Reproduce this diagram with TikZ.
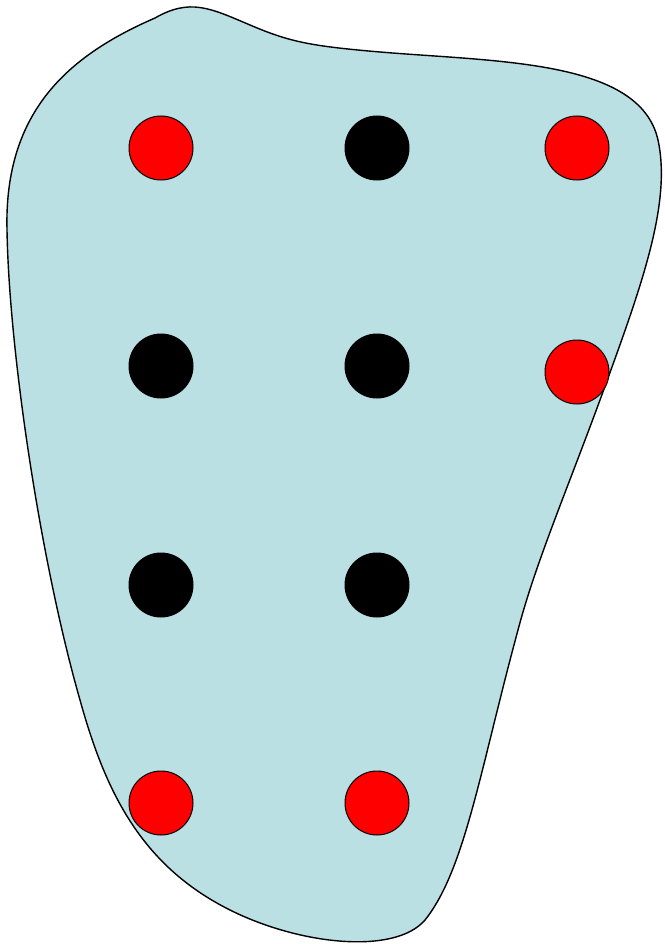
\documentclass[tikz,border=0pt]{standalone}
\definecolor{blob}{HTML}{BAE0E4}
\definecolor{dotred}{HTML}{FF0000}
\begin{document}
\begin{tikzpicture}[x=1pt,y=-1pt,
  reddot/.style={circle,draw=black,line width=1pt,fill=dotred,minimum size=64pt,inner sep=0pt},
  blackdot/.style={circle,draw=black,line width=1pt,fill=black,minimum size=64pt,inner sep=0pt}]
\useasboundingbox (0,0) rectangle (664,944);
\draw[fill=blob,line width=1.4pt]
 (7,230) .. controls (4,110) and (70,55) .. (155,18)
 .. controls (190,-2) and (210,8) .. (250,25)
 .. controls (290,42) and (310,46) .. (380,52)
 .. controls (500,62) and (640,60) .. (658,140)
 .. controls (672,205) and (640,290) .. (600,400)
 .. controls (565,495) and (535,565) .. (518,630)
 .. controls (480,770) and (465,870) .. (425,920)
 .. controls (395,955) and (300,945) .. (230,910)
 .. controls (140,865) and (105,790) .. (80,700)
 .. controls (40,560) and (9,350) .. (7,230) -- cycle;
\node[reddot] (a1) at (161,148) {};
\node[blackdot] (a2) at (377,148) {};
\node[reddot] (a3) at (577,148) {};
\node[blackdot] (b1) at (161,366) {};
\node[blackdot] (b2) at (377,366) {};
\node[reddot] (b3) at (577,372) {};
\node[blackdot] (c1) at (161,585) {};
\node[blackdot] (c2) at (377,585) {};
\node[reddot] (d1) at (161,803) {};
\node[reddot] (d2) at (377,803) {};
\end{tikzpicture}
\end{document}
